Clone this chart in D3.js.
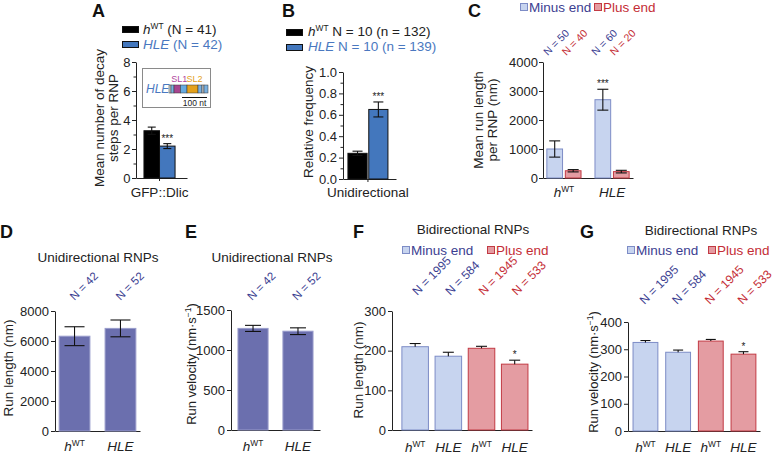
<!DOCTYPE html>
<html>
<head>
<meta charset="utf-8">
<script src="https://cdn.jsdelivr.net/npm/d3@7"></script>
<style>
body { margin: 0; background: #fff; }
svg { font-family: "Liberation Sans", Arial, sans-serif; }
</style>
</head>
<body>
<svg width="776" height="454"></svg>
<script>

// ---- data ----
var strains = ["hWT", "HLE"];
var directions = ["Minus end", "Plus end"];

// A: decay steps per RNP
var aCategory = ["GFP::Dlic"];
var aMean = [3.26, 2.2];
var aErr = [0.25, 0.17];
var aN = [41, 42];
var aStars = ["", "***"];
var aTicks = [0, 2, 4, 6, 8];
var aMinor = [1, 3, 5, 7];

// B: relative frequency of unidirectional RNPs
var bCategory = ["Unidirectional"];
var bMean = [0.24, 0.65];
var bErr = [0.02, 0.07];
var bEmbryos = [10, 10];
var bRnps = [132, 139];
var bStars = ["", "***"];
var bTicks = [0, 0.2, 0.4, 0.6, 0.8, 1.0];
var bMinor = [0.1, 0.3, 0.5, 0.7, 0.9];

// C: mean run length per RNP, [strain][direction]
var cMean = [[1000, 250], [2700, 220]];
var cErr = [[280, 40], [360, 45]];
var cN = [[50, 40], [60, 20]];
var cStars = [["", ""], ["***", ""]];
var cTicks = [0, 1000, 2000, 3000, 4000];

// D, E: unidirectional RNPs
var uniN = [42, 52];
var dMean = [6320, 6840];
var dErr = [630, 560];
var dTicks = [0, 2000, 4000, 6000, 8000];
var eMean = [1270, 1235];
var eErr = [38, 42];
var eTicks = [0, 500, 1000, 1500];

// F, G: bidirectional RNPs
var biStrain = ["hWT", "HLE", "hWT", "HLE"];
var biDir = ["Minus end", "Minus end", "Plus end", "Plus end"];
var biN = [1995, 584, 1945, 533];
var biStars = ["", "", "", "*"];
var fMean = [210, 186, 206, 166];
var fErr = [8, 10, 5, 10];
var fTicks = [0, 100, 200, 300];
var gMean = [325, 289, 330, 282];
var gErr = [7, 8, 6, 9];
var gTicks = [0, 100, 200, 300, 400];

// HLE schematic in the inset (segment lengths in nt)
var hleSegLen = [8, 12, 26, 26, 44, 16, 8, 16];
var hleSegColor = ["#d9d9d9", "#79b0e0", "#a8448f", "#66aadf", "#e3a11c", "#79b0e0", "#cfcfcf", "#79b0e0"];

// ---- styles ----
var ink = "#222";
var fs = 13.5;
var blueBar = "#4377bd";
var blueText = "#4a78c0";
var dirFill = { "Minus end": "#c7d4ef", "Plus end": "#e49ca2" };
var dirStroke = { "Minus end": "#7d8cc6", "Plus end": "#c23a44" };
var dirText = { "Minus end": "#3b3e91", "Plus end": "#c42c35" };
var uniFill = "#6b6fae";

var svg = d3.select("svg");

function leftAxis(y, x, ticks, minor, fmt, pad) {
  var g = svg.append("g").attr("transform", "translate(" + x + ",0)")
    .call(d3.axisLeft(y).tickValues(ticks).tickSize(4).tickSizeOuter(0).tickPadding(pad).tickFormat(fmt));
  g.attr("font-family", null).attr("font-size", 13);
  g.select(".domain").attr("stroke", ink);
  g.selectAll(".tick line").attr("stroke", ink);
  g.selectAll(".tick text").attr("fill", ink);
  g.selectAll(".minor").data(minor).enter().append("line")
    .attr("x1", -2.5).attr("x2", 0)
    .attr("y1", function (d) { return y(d) + 0.5; })
    .attr("y2", function (d) { return y(d) + 0.5; })
    .attr("stroke", ink);
}

function bottomAxis(x, y, tick) {
  var g = svg.append("g").attr("transform", "translate(0," + y(0) + ")")
    .call(d3.axisBottom(x).tickSize(tick).tickSizeOuter(0).tickFormat(""));
  g.select(".domain").attr("stroke", ink);
  g.selectAll(".tick line").attr("stroke", ink);
}

function drawBars(rows, y, both) {
  svg.append("g").selectAll("rect").data(rows).enter().append("rect")
    .attr("x", function (d) { return d.x; })
    .attr("width", function (d) { return d.w; })
    .attr("y", function (d) { return y(d.v); })
    .attr("height", function (d) { return y(0) - y(d.v); })
    .attr("fill", function (d) { return d.fill; })
    .attr("stroke", function (d) { return d.stroke; });
  var eb = svg.append("g").attr("stroke", "#111").attr("stroke-width", 1.1);
  rows.forEach(function (d) {
    var cx = d.x + d.w / 2, top = y(d.v + d.e), bot = both ? y(d.v - d.e) : y(d.v);
    eb.append("line").attr("x1", cx).attr("x2", cx).attr("y1", top).attr("y2", bot);
    eb.append("line").attr("x1", cx - d.cap).attr("x2", cx + d.cap).attr("y1", top).attr("y2", top);
    if (both) eb.append("line").attr("x1", cx - d.cap).attr("x2", cx + d.cap).attr("y1", bot).attr("y2", bot);
    if (d.star) {
      svg.append("text").attr("x", cx).attr("y", top - 2).attr("text-anchor", "middle")
        .attr("font-size", 10).attr("fill", ink).text(d.star);
    }
  });
}

// writes the strain name (h^WT or italic HLE) into a text, returns dy to get back to baseline
function strainText(t, name, size) {
  if (name === "hWT") {
    t.append("tspan").attr("font-style", "italic").text("h");
    t.append("tspan").attr("font-size", size * 0.62).attr("dy", -size * 0.4).text("WT");
    return size * 0.4;
  }
  t.append("tspan").attr("font-style", "italic").text(name);
  return 0;
}

function strainLabel(x, y, name) {
  var t = svg.append("text").attr("x", x).attr("y", y).attr("text-anchor", "middle")
    .attr("font-size", fs).attr("fill", ink);
  strainText(t, name, fs);
}

function nLabel(x, y, n, color, size) {
  svg.append("text").attr("transform", "translate(" + x + "," + y + ") rotate(-45)")
    .attr("font-size", size).attr("fill", color).text("N = " + n);
}

function yLabel(x, yc, lines) {
  lines.forEach(function (s, i) {
    svg.append("text").attr("transform", "translate(" + (x + i * 13.5) + "," + yc + ") rotate(-90)")
      .attr("text-anchor", "middle").attr("font-size", fs).attr("fill", ink).text(s);
  });
}

function velocityLabel(x, yc) {
  var t = svg.append("text").attr("transform", "translate(" + x + "," + yc + ") rotate(-90)")
    .attr("text-anchor", "middle").attr("font-size", 13).attr("fill", ink);
  t.append("tspan").text("Run velocity (nm\u00b7s");
  t.append("tspan").attr("font-size", 8.5).attr("dy", -5).text("\u22121");
  t.append("tspan").attr("dy", 5).text(")");
}

function dirLegend(x, y, gap) {
  directions.forEach(function (d, i) {
    svg.append("rect").attr("x", x + i * gap + 0.5).attr("y", y - 8.5).attr("width", 7).attr("height", 7)
      .attr("fill", dirFill[d]).attr("stroke", dirStroke[d]);
    svg.append("text").attr("x", x + i * gap + 9).attr("y", y).attr("font-size", fs)
      .attr("fill", dirText[d]).text(d);
  });
}

function panelLetter(x, y, s) {
  svg.append("text").attr("x", x).attr("y", y).attr("font-size", 18).attr("font-weight", "bold")
    .attr("fill", "#111").text(s);
}

function title(x, y, s) {
  svg.append("text").attr("x", x).attr("y", y).attr("text-anchor", "middle")
    .attr("font-size", fs).attr("fill", ink).text(s);
}

// ================= A =================
panelLetter(92, 17, "A");
var yA = d3.scaleLinear().domain([0, 8]).range([178, 62]);
var xA = d3.scaleBand().domain(aCategory).range([136, 187]).paddingOuter(0.32).align(0.4);
var sA = d3.scaleBand().domain(strains).range([0, xA.bandwidth()]);
var aFill = ["#000", blueBar];
var aTextCol = [ink, blueText];

strains.forEach(function (s, i) {
  svg.append("rect").attr("x", 122.5).attr("y", 26.5 + i * 15).attr("width", 16).attr("height", 6)
    .attr("fill", aFill[i]).attr("stroke", "#111");
  var t = svg.append("text").attr("x", 143).attr("y", 34 + i * 15).attr("font-size", fs).attr("fill", aTextCol[i]);
  var back = strainText(t, s, fs);
  t.append("tspan").attr("dy", back).text(" (N = " + aN[i] + ")");
});

leftAxis(yA, 136, aTicks, aMinor, d3.format("d"), 1.5);
bottomAxis(xA, yA, 3);
drawBars(strains.map(function (s, i) {
  return { x: xA(aCategory[0]) + sA(s), w: sA.bandwidth(), v: aMean[i], e: aErr[i],
    fill: aFill[i], stroke: "#111", cap: 4, star: aStars[i] };
}), yA, true);
svg.append("text").attr("x", xA(aCategory[0]) + xA.bandwidth() / 2).attr("y", 197)
  .attr("text-anchor", "middle").attr("font-size", fs).attr("fill", ink).text(aCategory[0]);
yLabel(104, 118, ["Mean number of decay", "steps per RNP"]);

// inset: HLE schematic
svg.append("rect").attr("x", 142.5).attr("y", 68.5).attr("width", 68).attr("height", 39)
  .attr("fill", "#fff").attr("stroke", "#8a8a8a");
var ntX = d3.scaleLinear().domain([0, 100]).range([0, 25]);
var segStart = [0].concat(Array.from(d3.cumsum(hleSegLen)));
svg.append("g").selectAll("rect").data(hleSegLen).enter().append("rect")
  .attr("x", function (d, i) { return 169 + ntX(segStart[i]); })
  .attr("width", function (d) { return ntX(d); })
  .attr("y", 85).attr("height", 8)
  .attr("fill", function (d, i) { return hleSegColor[i]; })
  .attr("stroke", "#333").attr("stroke-width", 0.5);
svg.append("text").attr("x", 146).attr("y", 93).attr("font-size", 12).attr("font-style", "italic")
  .attr("fill", blueText).text("HLE");
[[2, "SL1", "#b0449c"], [4, "SL2", "#e3a11c"]].forEach(function (d) {
  svg.append("text").attr("x", 169 + ntX(segStart[d[0]] + hleSegLen[d[0]] / 2) + 2).attr("y", 82)
    .attr("text-anchor", "middle").attr("font-size", 9).attr("fill", d[2]).text(d[1]);
});
svg.append("line").attr("x1", 182).attr("x2", 182 + ntX(100)).attr("y1", 97.5).attr("y2", 97.5)
  .attr("stroke", "#111");
svg.append("text").attr("x", 182 + ntX(50)).attr("y", 105.5).attr("text-anchor", "middle")
  .attr("font-size", 8.5).attr("fill", ink).text("100 nt");

// ================= B =================
panelLetter(282, 17, "B");
var yB = d3.scaleLinear().domain([0, 1]).range([179, 72]);
var xB = d3.scaleBand().domain(bCategory).range([343, 396]).paddingOuter(0.1625).align(0.38);
var sB = d3.scaleBand().domain(strains).range([0, xB.bandwidth()]).paddingInner(0.08);

strains.forEach(function (s, i) {
  svg.append("rect").attr("x", 286.5).attr("y", 29.5 + i * 15).attr("width", 16).attr("height", 6)
    .attr("fill", aFill[i]).attr("stroke", "#111");
  var t = svg.append("text").attr("x", 308).attr("y", 36 + i * 15).attr("font-size", fs).attr("fill", aTextCol[i]);
  var back = strainText(t, s, fs);
  t.append("tspan").attr("dy", back).text(" N = " + bEmbryos[i] + " (n = " + bRnps[i] + ")");
});

leftAxis(yB, 343, bTicks, bMinor, d3.format(".1f"), 2);
bottomAxis(xB, yB, 3);
drawBars(strains.map(function (s, i) {
  return { x: xB(bCategory[0]) + sB(s), w: sB.bandwidth(), v: bMean[i], e: bErr[i],
    fill: aFill[i], stroke: "#111", cap: 5, star: bStars[i] };
}), yB, true);
svg.append("text").attr("x", xB(bCategory[0]) + xB.bandwidth() / 2).attr("y", 197)
  .attr("text-anchor", "middle").attr("font-size", fs).attr("fill", ink).text(bCategory[0]);
yLabel(313, 122, ["Relative frequency"]);

// ================= C =================
panelLetter(468, 17, "C");
dirLegend(520, 12, 74);
var yC = d3.scaleLinear().domain([0, 4000]).range([178, 62]);
var xC = d3.scaleBand().domain(strains).range([543, 633]).paddingInner(0.29).paddingOuter(0.08);
var sC = d3.scaleBand().domain(directions).range([0, xC.bandwidth()]).paddingInner(0.15);
leftAxis(yC, 543, cTicks, [], d3.format("d"), 1);
bottomAxis(xC, yC, 0);
var cRows = [];
strains.forEach(function (s, i) {
  directions.forEach(function (dir, j) {
    cRows.push({ x: xC(s) + sC(dir), w: sC.bandwidth(), v: cMean[i][j], e: cErr[i][j],
      fill: dirFill[dir], stroke: dirStroke[dir], cap: 5.5, star: cStars[i][j] });
    nLabel(xC(s) + sC(dir) + sC.bandwidth() / 2 - 7, 56, cN[i][j], dirText[dir], 10.5);
  });
  strainLabel(xC(s) + xC.bandwidth() / 2, 197, s);
});
drawBars(cRows, yC, true);
yLabel(483, 120, ["Mean run length", "per RNP (nm)"]);

// ================= D =================
panelLetter(0, 238, "D");
title(98, 262, "Unidirectional RNPs");
var yD = d3.scaleLinear().domain([0, 8000]).range([431, 311]);
var xD = d3.scaleBand().domain(strains).range([55, 140]).paddingInner(0.33).paddingOuter(0.09);
leftAxis(yD, 55, dTicks, [], d3.format("d"), 2);
bottomAxis(xD, yD, 0);
drawBars(strains.map(function (s, i) {
  return { x: xD(s), w: xD.bandwidth(), v: dMean[i], e: dErr[i], fill: uniFill, stroke: "#9a9dcc", cap: 10 };
}), yD, true);
strains.forEach(function (s, i) {
  strainLabel(xD(s) + xD.bandwidth() / 2, 451, s);
  nLabel(xD(s) + xD.bandwidth() / 2, 301, uniN[i], dirText["Minus end"], 11.5);
});
yLabel(12.5, 368, ["Run length (nm)"]);

// ================= E =================
panelLetter(185, 238, "E");
title(272, 262, "Unidirectional RNPs");
var yE = d3.scaleLinear().domain([0, 1500]).range([430, 310]);
var xE = d3.scaleBand().domain(strains).range([231, 320]).paddingInner(0.33).paddingOuter(0.155);
leftAxis(yE, 231, eTicks, [], d3.format("d"), 2);
bottomAxis(xE, yE, 0);
drawBars(strains.map(function (s, i) {
  return { x: xE(s), w: xE.bandwidth(), v: eMean[i], e: eErr[i], fill: uniFill, stroke: "#9a9dcc", cap: 8 };
}), yE, true);
strains.forEach(function (s, i) {
  strainLabel(xE(s) + xE.bandwidth() / 2, 451, s);
  nLabel(xE(s) + xE.bandwidth() / 2 - 1, 301, uniN[i], dirText["Minus end"], 11.5);
});
velocityLabel(196, 364);

// ================= F =================
var biKeys = biStrain.map(function (s, i) { return biDir[i] + " " + s; });

panelLetter(353, 238, "F");
title(473, 234, "Bidirectional RNPs");
dirLegend(402, 255, 85);
var yF = d3.scaleLinear().domain([0, 300]).range([430, 311]);
var xF = d3.scaleBand().domain(biKeys).range([392, 532]).paddingInner(0.2).paddingOuter(0.21).align(0.71);
leftAxis(yF, 392, fTicks, [], d3.format("d"), 2);
bottomAxis(xF, yF, 0);
drawBars(biKeys.map(function (k, i) {
  return { x: xF(k), w: xF.bandwidth(), v: fMean[i], e: fErr[i], fill: dirFill[biDir[i]],
    stroke: dirStroke[biDir[i]], cap: 5.5, star: biStars[i] };
}), yF, false);
biKeys.forEach(function (k, i) {
  strainLabel(xF(k) + xF.bandwidth() / 2, 452, biStrain[i]);
  nLabel(xF(k) + xF.bandwidth() / 2 + 2, 296, biN[i], dirText[biDir[i]], 12);
});
yLabel(363, 370, ["Run length (nm)"]);

// ================= G =================
panelLetter(580, 238, "G");
title(701, 235, "Bidirectional RNPs");
dirLegend(627, 255, 81);
var yG = d3.scaleLinear().domain([0, 400]).range([431, 322]);
var xG = d3.scaleBand().domain(biKeys).range([628, 760]).paddingInner(0.24).paddingOuter(0.14).align(0.55);
leftAxis(yG, 628, gTicks, [], d3.format("d"), 2);
bottomAxis(xG, yG, 0);
drawBars(biKeys.map(function (k, i) {
  return { x: xG(k), w: xG.bandwidth(), v: gMean[i], e: gErr[i], fill: dirFill[biDir[i]],
    stroke: dirStroke[biDir[i]], cap: 5, star: biStars[i] };
}), yG, false);
biKeys.forEach(function (k, i) {
  strainLabel(xG(k) + xG.bandwidth() / 2, 452, biStrain[i]);
  nLabel(xG(k) + xG.bandwidth() / 2 - 1, 305, biN[i], dirText[biDir[i]], 12);
});
velocityLabel(598, 372);

</script>
</body>
</html>
